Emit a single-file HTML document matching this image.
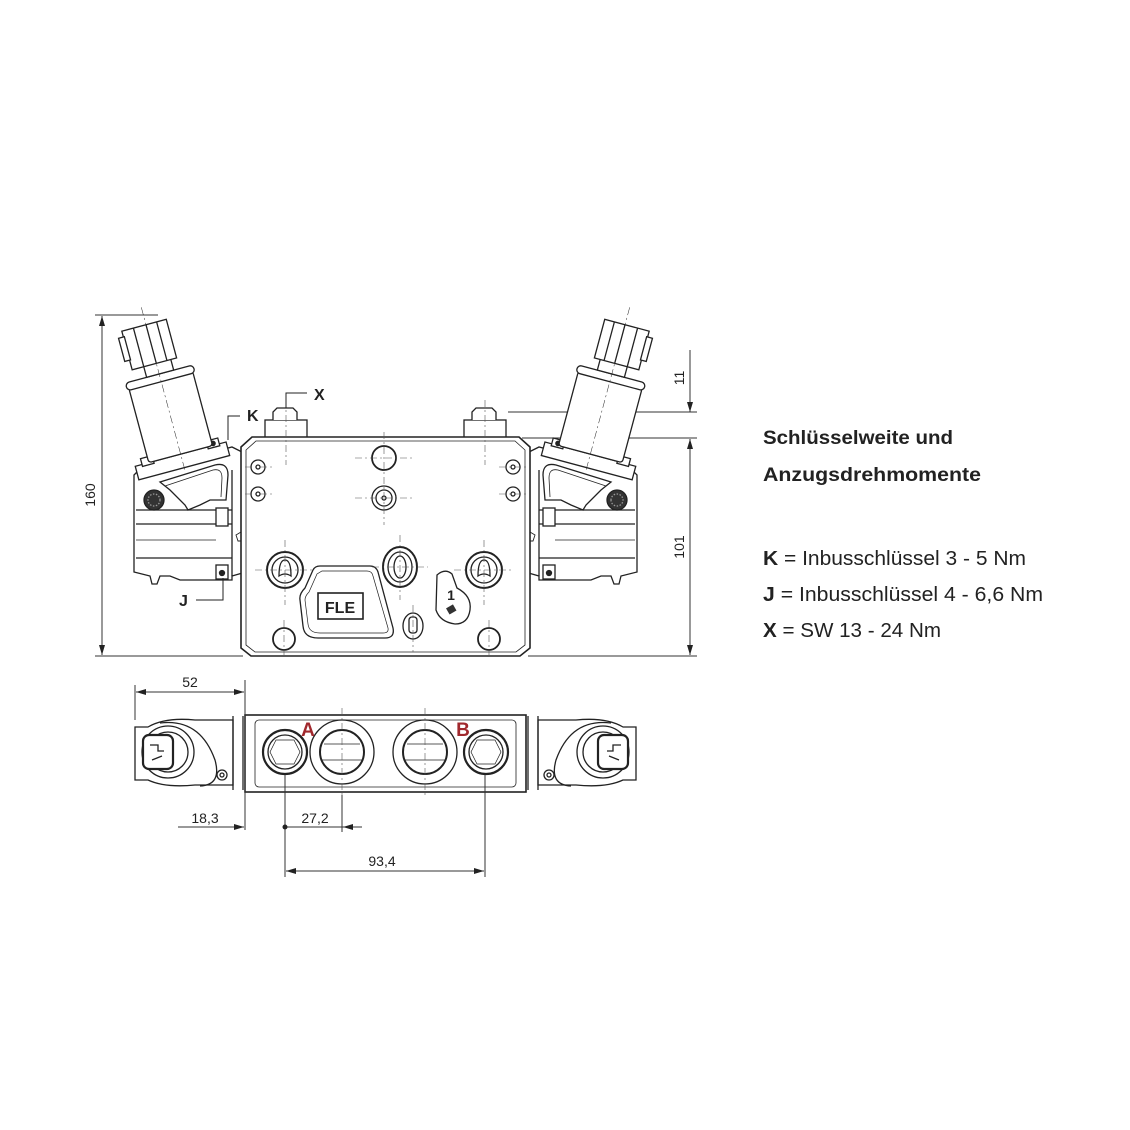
<!DOCTYPE html>
<html><head><meta charset="utf-8"><style>
html,body{margin:0;padding:0;background:#fff;}
svg{display:block}
.t{font-family:"Liberation Sans","DejaVu Sans",sans-serif;fill:#222}
</style></head><body>
<svg width="1130" height="1130" viewBox="0 0 1130 1130" xmlns="http://www.w3.org/2000/svg">
<defs>
<marker id="ar" viewBox="0 0 10 6" refX="10" refY="3" markerWidth="10" markerHeight="6" orient="auto-start-reverse" markerUnits="userSpaceOnUse"><path d="M0,0 L10,3 L0,6 z" fill="#222"/></marker>
<g id="sol" fill="#fff" stroke="#222" stroke-width="1.3">
  <path d="M134,475 L137,472 L232,447 L242,452 L246,468 L246,572 L232,576 L232,580 L180,580 L170,576 L160,576 L157,584 L152,584 L150,576 L134,572 Z"/>
  <line x1="136" y1="510" x2="232" y2="510"/>
  <line x1="136" y1="524" x2="232" y2="524"/>
  <line x1="136" y1="558" x2="232" y2="558"/>
  <line x1="136" y1="540" x2="216" y2="540" stroke-width="0.7"/>
  <line x1="232" y1="470" x2="232" y2="576"/>
  <path d="M160,482 L215,465 Q228,462 228,475 L226,500 L210,500 L200,505 L188,510 L185,505 L170,490 Z" fill="none"/>
  <path d="M165,486 L213,470 Q222,468 222,478 L221,497" fill="none" stroke-width="0.8"/>
  <rect x="216" y="508" width="12" height="18"/>
  <rect x="216" y="565" width="12" height="14"/>
  <circle cx="222" cy="573" r="2.5" fill="#222"/>
  <circle cx="154" cy="500" r="10" fill="#333"/>
  <circle cx="154" cy="500" r="6" fill="none" stroke="#999" stroke-dasharray="1.5 1.5"/>
  <path d="M236,535 l5,-3 l4,3 l-1,6 l-6,0 z" fill="none" stroke-width="0.9"/>
  <g transform="rotate(-15 190 462)">
    <rect x="136" y="452" width="94" height="14"/>
    <rect x="143" y="446" width="12" height="8"/>
    <rect x="211" y="446" width="12" height="8"/>
    <circle cx="217" cy="450" r="2.2" fill="#222"/>
    <rect x="150" y="375" width="66" height="77" rx="3"/>
    <rect x="148" y="369" width="70" height="8" rx="4"/>
    <rect x="170" y="357" width="28" height="12"/>
    <rect x="158" y="318" width="46" height="40"/>
    <line x1="170" y1="318" x2="170" y2="358"/>
    <line x1="183" y1="318" x2="183" y2="358"/>
    <line x1="194" y1="318" x2="194" y2="358"/>
    <rect x="153" y="324" width="6" height="24"/>
    <line x1="183" y1="300" x2="183" y2="470" stroke-width="0.5" stroke-dasharray="8 3 2 3"/>
  </g>
</g>
<g id="bsol" fill="#fff" stroke="#222" stroke-width="1.3">
  <path d="M135,727 L148,727 Q165,717 195,720 L233,720 L233,785 L195,785 Q165,788 148,780 L135,780 Z"/>
  <line x1="233" y1="716" x2="233" y2="790"/>
  <line x1="243" y1="716" x2="243" y2="790"/>
  <path d="M160,723 Q200,718 215,760 Q222,785 200,786" fill="none"/>
  <circle cx="168" cy="752" r="26"/>
  <circle cx="168" cy="752" r="20"/>
  <rect x="143" y="735" width="30" height="34" rx="6" stroke-width="2.2"/>
  <path d="M150,745 l8,0 l0,6 l6,0 M152,760 l10,-4" fill="none"/>
  <circle cx="222" cy="775" r="5"/>
  <circle cx="222" cy="775" r="2"/>
</g>
</defs>

<g stroke="#333" stroke-width="1" fill="none">
  <line x1="95" y1="315" x2="158" y2="315"/>
  <line x1="95" y1="656" x2="243" y2="656"/>
  <line x1="102" y1="316" x2="102" y2="655" marker-start="url(#ar)" marker-end="url(#ar)"/>
  <line x1="528" y1="656" x2="697" y2="656"/>
  <line x1="508" y1="412" x2="697" y2="412"/>
  <line x1="522" y1="438" x2="697" y2="438"/>
  <line x1="690" y1="350" x2="690" y2="412" marker-end="url(#ar)"/>
  <line x1="690" y1="439" x2="690" y2="655" marker-start="url(#ar)" marker-end="url(#ar)"/>
</g>
<text class="t" x="95" y="495" font-size="14" transform="rotate(-90 95 495)" text-anchor="middle">160</text>
<text class="t" x="684" y="378" font-size="14" transform="rotate(-90 684 378)" text-anchor="middle">11</text>
<text class="t" x="684" y="547" font-size="14" transform="rotate(-90 684 547)" text-anchor="middle">101</text>

<use href="#sol"/>
<use href="#sol" transform="translate(771,0) scale(-1,1)"/>

<g fill="#fff" stroke="#222" stroke-width="1.3">
  <rect x="265" y="420" width="42" height="18"/>
  <path d="M273,420 l0,-8 l4,-4 l16,0 l4,4 l0,8"/>
  <rect x="464" y="420" width="42" height="18"/>
  <path d="M472,420 l0,-8 l4,-4 l16,0 l4,4 l0,8"/>
  <path d="M252,437 L519,437 L530,447 L530,648 L520,656 L251,656 L241,648 L241,447 Z" stroke-width="1.6"/>
  <path d="M256,441 L515,441 L525,450 L525,645 L516,652 L255,652 L246,645 L246,450 Z" stroke-width="0.8"/>
  <g>
    <circle cx="258" cy="467" r="7"/><circle cx="258" cy="467" r="2"/>
    <circle cx="258" cy="494" r="7"/><circle cx="258" cy="494" r="2"/>
    <circle cx="513" cy="467" r="7"/><circle cx="513" cy="467" r="2"/>
    <circle cx="513" cy="494" r="7"/><circle cx="513" cy="494" r="2"/>
    <circle cx="384" cy="458" r="12" stroke-width="1.8"/>
    <circle cx="384" cy="498" r="12"/><circle cx="384" cy="498" r="8"/><circle cx="384" cy="498" r="2"/>
    <circle cx="284" cy="639" r="11" stroke-width="1.8"/>
    <circle cx="489" cy="639" r="11" stroke-width="1.8"/>
  </g>
  <circle cx="285" cy="570" r="18" stroke-width="2"/><circle cx="285" cy="570" r="13"/>
  <path d="M279,576 Q279,560 285,560 Q291,560 291,576 Q285,572 279,576 Z"/>
  <circle cx="484" cy="570" r="18" stroke-width="2"/><circle cx="484" cy="570" r="13"/>
  <path d="M478,576 Q478,560 484,560 Q490,560 490,576 Q484,572 478,576 Z"/>
  <ellipse cx="400" cy="567" rx="17" ry="20" stroke-width="2"/><ellipse cx="400" cy="567" rx="12" ry="15"/>
  <ellipse cx="400" cy="567" rx="6" ry="11"/>
  <path d="M320,566 L370,566 Q376,566 378,572 L393,628 Q395,638 385,638 L318,638 Q304,638 303,626 L300,600 Q299,594 305,588 L313,570 Q315,566 320,566 Z"/>
  <path d="M322,571 L367,571 Q372,571 373,576 L388,628 Q389,633 383,633 L320,633 Q309,633 308,624 L305,600 Q305,596 309,592 L317,574 Z" stroke-width="0.7"/>
  <rect x="318" y="593" width="45" height="26" stroke-width="1.6"/>
  <ellipse cx="413" cy="626" rx="10" ry="13"/><rect x="409" y="617" width="8" height="16" rx="3"/>
  <path d="M437,575 Q445,568 452,574 L457,588 Q472,596 470,610 Q468,624 455,624 Q440,622 436,610 Z"/>
</g>
<text class="t" x="340" y="613" font-size="16" font-weight="bold" text-anchor="middle">FLE</text>
<text class="t" x="451" y="600" font-size="14" font-weight="bold" text-anchor="middle">1</text>
<rect x="447" y="606" width="8" height="7" fill="#333" transform="rotate(-30 451 609)"/>
<g stroke="#555" stroke-width="0.6" stroke-dasharray="7 3 2 3" fill="none">
  <line x1="286" y1="400" x2="286" y2="465"/><line x1="485" y1="400" x2="485" y2="465"/>
  <line x1="384" y1="432" x2="384" y2="525"/><line x1="355" y1="458" x2="413" y2="458"/><line x1="355" y1="498" x2="413" y2="498"/>
  <line x1="245" y1="467" x2="272" y2="467"/><line x1="245" y1="494" x2="272" y2="494"/>
  <line x1="499" y1="467" x2="526" y2="467"/><line x1="499" y1="494" x2="526" y2="494"/>
  <line x1="285" y1="540" x2="285" y2="605"/><line x1="255" y1="570" x2="315" y2="570"/>
  <line x1="484" y1="540" x2="484" y2="605"/><line x1="454" y1="570" x2="514" y2="570"/>
  <line x1="400" y1="535" x2="400" y2="600"/><line x1="372" y1="567" x2="428" y2="567"/>
  <line x1="284" y1="620" x2="284" y2="660"/><line x1="489" y1="620" x2="489" y2="660"/>
  <line x1="413" y1="605" x2="413" y2="652"/>
</g>
<g stroke="#222" stroke-width="1" fill="none">
  <polyline points="286,408 286,393 307,393"/>
  <polyline points="228,440 228,416 240,416"/>
  <polyline points="223,578 223,600 196,600"/>
</g>
<text class="t" x="314" y="400" font-size="16" font-weight="bold">X</text>
<text class="t" x="247" y="421" font-size="16" font-weight="bold">K</text>
<text class="t" x="179" y="606" font-size="16" font-weight="bold">J</text>

<use href="#bsol"/>
<use href="#bsol" transform="translate(771,0) scale(-1,1)"/>
<g fill="#fff" stroke="#222" stroke-width="1.3">
  <rect x="245" y="715" width="281" height="77" stroke-width="1.6"/>
  <rect x="255" y="720" width="261" height="67" rx="4" stroke-width="0.8"/>
  <circle cx="285" cy="752" r="22" stroke-width="2.2"/><circle cx="285" cy="752" r="17"/>
  <polygon points="276,740 294,740 300,752 294,764 276,764 270,752" stroke-width="0.7"/>
  <circle cx="486" cy="752" r="22" stroke-width="2.2"/><circle cx="486" cy="752" r="17"/>
  <polygon points="477,740 495,740 501,752 495,764 477,764 471,752" stroke-width="0.7"/>
  <circle cx="342" cy="752" r="32"/><circle cx="342" cy="752" r="22" stroke-width="2"/>
  <circle cx="425" cy="752" r="32"/><circle cx="425" cy="752" r="22" stroke-width="2"/>
  <g stroke-width="0.7"><line x1="324" y1="744" x2="360" y2="744"/><line x1="321" y1="760" x2="363" y2="760"/>
  <line x1="407" y1="744" x2="443" y2="744"/><line x1="404" y1="760" x2="446" y2="760"/></g>
</g>
<text x="308" y="736" font-size="19" font-weight="bold" fill="#a0282d" font-family="Liberation Sans,sans-serif" text-anchor="middle">A</text>
<text x="463" y="736" font-size="19" font-weight="bold" fill="#a0282d" font-family="Liberation Sans,sans-serif" text-anchor="middle">B</text>
<g stroke="#555" stroke-width="0.6" stroke-dasharray="7 3 2 3">
  <line x1="342" y1="708" x2="342" y2="795"/><line x1="425" y1="708" x2="425" y2="795"/>
</g>
<g stroke="#333" stroke-width="1" fill="none">
  <line x1="135" y1="685" x2="135" y2="720"/>
  <line x1="245" y1="680" x2="245" y2="830"/>
  <line x1="136" y1="692" x2="244" y2="692" marker-start="url(#ar)" marker-end="url(#ar)"/>
  <line x1="285" y1="775" x2="285" y2="877"/>
  <line x1="342" y1="795" x2="342" y2="832"/>
  <line x1="485" y1="775" x2="485" y2="877"/>
  <line x1="178" y1="827" x2="244" y2="827" marker-end="url(#ar)"/>
  <line x1="285" y1="827" x2="362" y2="827"/>
  <line x1="362" y1="827" x2="343" y2="827" marker-end="url(#ar)"/>
  <line x1="286" y1="871" x2="484" y2="871" marker-start="url(#ar)" marker-end="url(#ar)"/>
</g>
<circle cx="285" cy="827" r="2.5" fill="#222"/>
<text class="t" x="190" y="687" font-size="14" text-anchor="middle">52</text>
<text class="t" x="205" y="823" font-size="14" text-anchor="middle">18,3</text>
<text class="t" x="315" y="823" font-size="14" text-anchor="middle">27,2</text>
<text class="t" x="382" y="866" font-size="14" text-anchor="middle">93,4</text>

<g font-family="Liberation Sans,sans-serif" fill="#222">
<text x="763" y="444" font-size="19" font-weight="bold" textLength="190" lengthAdjust="spacingAndGlyphs">Schlüsselweite und</text>
<text x="763" y="481" font-size="19" font-weight="bold" textLength="218" lengthAdjust="spacingAndGlyphs">Anzugsdrehmomente</text>
<text x="763" y="565" font-size="20" textLength="263" lengthAdjust="spacingAndGlyphs"><tspan font-weight="bold">K</tspan> = Inbusschlüssel 3 - 5 Nm</text>
<text x="763" y="601" font-size="20" textLength="280" lengthAdjust="spacingAndGlyphs"><tspan font-weight="bold">J</tspan>  = Inbusschlüssel 4 - 6,6 Nm</text>
<text x="763" y="637" font-size="20" textLength="178" lengthAdjust="spacingAndGlyphs"><tspan font-weight="bold">X</tspan> = SW 13 - 24 Nm</text>
</g>
</svg>
</body></html>
